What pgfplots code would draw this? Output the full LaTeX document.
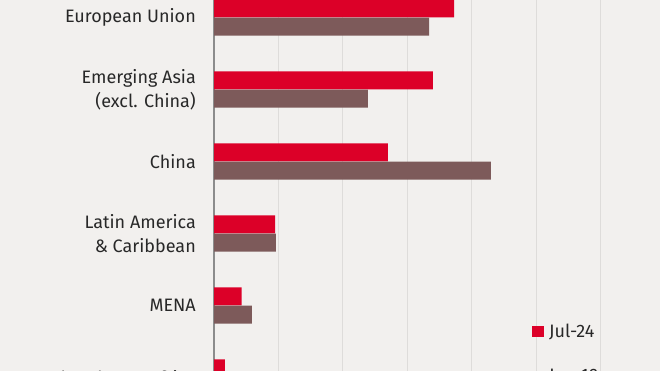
\documentclass[border=0pt]{standalone}
\usepackage{fontspec}
\setmainfont{Fira Sans}
\usepackage{pgfplots}
\pgfplotsset{compat=1.18}
\definecolor{bg}{RGB}{242,240,238}
\definecolor{cred}{RGB}{220,0,40}
\definecolor{cbrown}{RGB}{125,90,90}
\definecolor{gridc}{RGB}{222,220,218}
\definecolor{axisgray}{RGB}{140,140,140}
\definecolor{txt}{RGB}{40,40,40}
\begin{document}
\begin{tikzpicture}[x=1pt,y=1pt]
\fill[bg] (0,0) rectangle (660,371);
\begin{axis}[
  at={(214pt,-13.7pt)}, anchor=south west,
  width=441pt, height=384.7pt, scale only axis,
  xbar, bar width=0.25,
  xmin=0, xmax=6.848,
  ymin=-0.243, ymax=5.1, y dir=reverse,
  axis line style={draw=none},
  xtick={1,2,3,4,5,6}, xticklabels={},
  xmajorgrids, grid style={gridc, line width=0.8pt},
  extra x ticks={0}, extra x tick labels={},
  extra x tick style={grid style={axisgray, line width=1.3pt}},
  major tick length=0pt,
  ytick={0,1,2,3,4,5.0},
  yticklabels={European Union, Emerging Asia\\(excl. China), China, Latin America\\\& Caribbean, MENA, Sub-Saharan Africa},
  yticklabel style={font=\fontsize{18}{24}\selectfont, align=right, text=txt, inner sep=0pt, xshift=-18pt},
  legend style={draw=none, fill=none, at={(axis cs:4.937,4.256)}, anchor=north west,
    font=\fontsize{18}{20}\selectfont, text=txt, row sep=30pt, inner sep=0pt,
    nodes={inner sep=0pt}, column sep=5pt,
    legend cell align=left},
  legend image code/.code={\fill[#1] (0pt,-5.5pt) rectangle (12pt,5.5pt);},
]
\addplot[fill=cred, draw=none, bar shift=-0.128] coordinates {(3.73,0) (3.40,1) (2.70,2) (0.95,3) (0.43,4) (0.17,5)};
\addplot[fill=cbrown, draw=none, bar shift=0.128] coordinates {(3.34,0) (2.39,1) (4.30,2) (0.96,3) (0.59,4) (0.35,5)};
\legend{Jul-24, Jan-19}
\end{axis}
\pgfresetboundingbox
\path (0,0) rectangle (660,371);
\end{tikzpicture}
\end{document}
